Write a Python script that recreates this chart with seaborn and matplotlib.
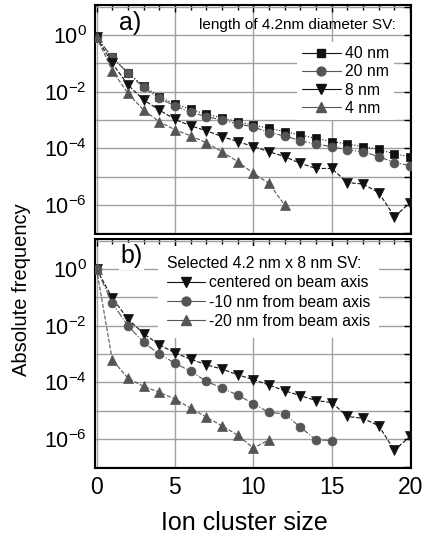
import numpy as np
import pandas as pd
import matplotlib
matplotlib.use("Agg")
import matplotlib.pyplot as plt
import seaborn as sns
from matplotlib.lines import Line2D
from matplotlib.ticker import FixedLocator, MultipleLocator, FuncFormatter

# ---- data -------------------------------------------------------------
size_a = list(range(21))
sv_40nm = [0.83, 0.162, 0.0468, 0.0158, 6.6e-3, 3.63e-3, 2.4e-3, 1.58e-3, 1.2e-3, 8.7e-4, 6.6e-4,
           5.1e-4, 3.9e-4, 2.95e-4, 2.24e-4, 1.74e-4, 1.41e-4, 1.15e-4, 9.1e-5, 6.3e-5, 5.1e-5]
sv_20nm = [0.83, 0.162, 0.0447, 0.0141, 5.75e-3, 3.16e-3, 1.86e-3, 1.32e-3, 1.0e-3, 7.2e-4, 5.75e-4,
           3.55e-4, 2.75e-4, 1.86e-4, 1.41e-4, 1.15e-4, 8.7e-5, 7.6e-5, 5.1e-5, 3.16e-5, 2.45e-5]
sv_8nm = [0.83, 0.1, 0.0174, 5.1e-3, 2.24e-3, 1.05e-3, 6.2e-4, 4.2e-4, 2.6e-4, 1.74e-4, 1.15e-4,
          7.6e-5, 5.1e-5, 2.95e-5, 1.95e-5, 1.95e-5, 6.2e-6, 5.5e-6, 2.75e-6, 3.9e-7, 1.2e-6]
size_4nm = list(range(13))
sv_4nm = [0.83, 0.055, 8.7e-3, 2.24e-3, 8.7e-4, 4.5e-4, 2.75e-4, 1.58e-4, 7.6e-5, 3.4e-5, 1.32e-5,
          5.75e-6, 1.0e-6]

size_b = list(range(21))
centered = [1.0, 0.095, 0.0174, 5.25e-3, 2.14e-3, 1.1e-3, 6.6e-4, 4.2e-4, 2.95e-4, 1.86e-4, 1.26e-4,
            8.1e-5, 5.1e-5, 3.4e-5, 2.3e-5, 1.95e-5, 6.3e-6, 5.4e-6, 2.95e-6, 4.0e-7, 1.26e-6]
size_m10 = list(range(16))
minus10 = [1.0, 0.063, 0.01, 2.57e-3, 1.0e-3, 4.8e-4, 2.45e-4, 1.1e-4, 6.3e-5, 3.6e-5, 1.78e-5,
           8.7e-6, 7.8e-6, 2.6e-6, 9.5e-7, 8.9e-7]
size_m20 = list(range(12))
minus20 = [1.0, 6.3e-4, 1.41e-4, 7.2e-5, 4.5e-5, 2.6e-5, 1.23e-5, 6.0e-6, 2.95e-6, 1.38e-6, 4.8e-7,
           9.5e-7]

BLACK = "#111111"
GREY = "#555555"
MS_SQ, MS_CI, MS_TR = 5.8, 6.4, 7.8

sns.set_style("white")
plt.rcParams["font.family"] = ["Liberation Sans", "DejaVu Sans"]
plt.rcParams["mathtext.fontset"] = "custom"
plt.rcParams["mathtext.rm"] = "Liberation Sans"
plt.rcParams["mathtext.default"] = "regular"
plt.rcParams["axes.unicode_minus"] = False
plt.rcParams["text.color"] = "black"
plt.rcParams["xtick.color"] = "black"
plt.rcParams["ytick.color"] = "black"

fig = plt.figure(figsize=(4.28, 5.39), dpi=100)
ax1 = fig.add_axes([0.222, 0.566, 0.738, 0.4249])
ax2 = fig.add_axes([0.222, 0.1317, 0.738, 0.4249])


def draw(ax, x, y, marker, color, ls, ms):
    sns.lineplot(x=x, y=y, ax=ax, color=color, marker=marker, markersize=ms,
                 markeredgecolor=color, markeredgewidth=0.5, linewidth=0.8,
                 linestyle=ls, zorder=3)


draw(ax1, size_a, sv_40nm, "s", BLACK, ":", MS_SQ)
draw(ax1, size_a, sv_20nm, "o", GREY, "-.", MS_CI)
draw(ax1, size_a, sv_8nm, "v", BLACK, "--", MS_TR)
draw(ax1, size_4nm, sv_4nm, "^", GREY, "--", MS_TR)

draw(ax2, size_b, centered, "v", BLACK, "--", MS_TR)
draw(ax2, size_m10, minus10, "o", GREY, "-.", MS_CI)
draw(ax2, size_m20, minus20, "^", GREY, "--", MS_TR)


def ylab(v, pos):
    e = int(round(np.log10(v)))
    return f"$10^{{{e}}}$" if e % 2 == 0 else ""


for ax in (ax1, ax2):
    ax.set_yscale("log")
    ax.set_xlim(-0.1, 20.05)
    ax.set_ylim(10 ** -7.02, 10 ** 1.06)
    ax.yaxis.set_major_locator(FixedLocator([10.0 ** e for e in range(-7, 2)]))
    ax.yaxis.set_major_formatter(FuncFormatter(ylab))
    ax.yaxis.set_minor_locator(FixedLocator([]))
    ax.xaxis.set_major_locator(MultipleLocator(5))
    ax.xaxis.set_minor_locator(MultipleLocator(1))
    ax.grid(True, which="major", color="#a0a0a0", linewidth=1.0, zorder=0)
    ax.set_axisbelow(True)
    ax.tick_params(which="both", direction="in", top=True, right=True, colors="black")
    ax.tick_params(which="major", length=5, width=1.0)
    ax.tick_params(which="minor", length=3.5, width=1.0)
    ax.tick_params(axis="y", labelsize=15.5, pad=6)
    ax.tick_params(axis="x", labelsize=16.5, pad=6)
    for s in ax.spines.values():
        s.set_color("black")
        s.set_linewidth(1.5)
    ax.set_xlabel("")
    ax.set_ylabel("")

ax1.tick_params(axis="x", labelbottom=False)

# panel labels
ax1.text(0.075, 0.92, "a)", transform=ax1.transAxes, fontsize=18, ha="left", va="center")
ax2.text(0.08, 0.925, "b)", transform=ax2.transAxes, fontsize=18, ha="left", va="center",
         bbox=dict(facecolor="white", edgecolor="none", pad=1), zorder=5)

# legend a
ax1.text(0.953, 0.913, "length of 4.2nm diameter SV:", transform=ax1.transAxes,
         fontsize=11, ha="right", va="center")
h1 = [
    Line2D([], [], color=BLACK, marker="s", ms=MS_SQ, lw=0.8, mec=BLACK),
    Line2D([], [], color=GREY, marker="o", ms=MS_CI, lw=0.8, mec=GREY),
    Line2D([], [], color=BLACK, marker="v", ms=MS_TR, lw=0.8, mec=BLACK),
    Line2D([], [], color=GREY, marker="^", ms=MS_TR, lw=0.8, mec=GREY),
]
leg1 = ax1.legend(h1, ["40 nm", "20 nm", "8 nm", "4 nm"], loc="upper left",
                  bbox_to_anchor=(0.64, 0.84), fontsize=11.3, frameon=True, fancybox=False,
                  framealpha=1, edgecolor="none", facecolor="white", borderpad=0.3,
                  labelspacing=0.2, handlelength=2.5, handletextpad=0.25,
                  borderaxespad=0)
leg1.set_zorder(4)

# legend b
h2 = [
    Line2D([], [], color=BLACK, marker="v", ms=MS_TR, lw=0.8, mec=BLACK),
    Line2D([], [], color=GREY, marker="o", ms=MS_CI, lw=0.8, mec=GREY),
    Line2D([], [], color=GREY, marker="^", ms=MS_TR, lw=0.8, mec=GREY),
]
leg2 = ax2.legend(h2, ["centered on beam axis", "-10 nm from beam axis", "-20 nm from beam axis"],
                  title="Selected 4.2 nm x 8 nm SV:", title_fontsize=11.3, alignment="left",
                  loc="upper left", bbox_to_anchor=(0.198, 0.968), fontsize=11.3, frameon=True,
                  fancybox=False, framealpha=1, edgecolor="none", facecolor="white",
                  borderpad=0.6, labelspacing=0.28, handlelength=2.4, handletextpad=0.25,
                  borderaxespad=0)
leg2.set_zorder(4)

fig.text(22 / 428, 1 - 290 / 539, "Absolute frequency", rotation=90, fontsize=14.5,
         ha="center", va="center")
fig.text(244 / 428, 1 - 523 / 539, "Ion cluster size", fontsize=18, ha="center", va="center")

fig.savefig("out.png", dpi=100)
